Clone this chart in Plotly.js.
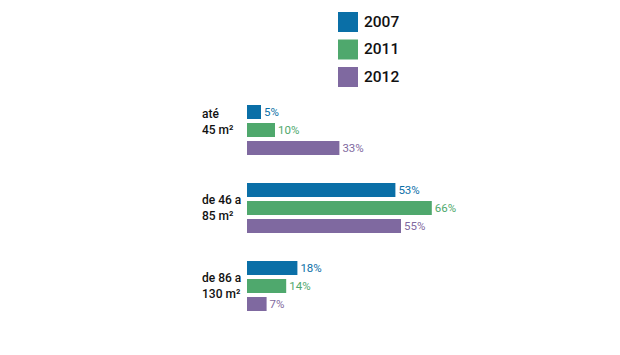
<!DOCTYPE html>
<html>
<head>
<meta charset="utf-8">
<script src="https://cdn.plot.ly/plotly-3.0.1.min.js"></script>
<style>html,body{margin:0;padding:0;background:#fff;}#chart{width:620px;height:355px;}</style>
</head>
<body>
<div id="chart"></div>
<script>
const categories = ["até<br>45 m²", "de 46 a<br>85 m²", "de 86 a<br>130 m²"];
const seriesNames = ["2007", "2011", "2012"];
const values2007 = [5, 53, 18];
const values2011 = [10, 66, 14];
const values2012 = [33, 55, 7];
const colors = ["#0a6fa7", "#4fa86d", "#7f69a0"];

const seriesValues = [values2007, values2011, values2012];
const catIdx = categories.map((c, i) => i);

const traces = seriesValues.map((vals, i) => ({
  type: "bar",
  orientation: "h",
  name: seriesNames[i],
  x: vals,
  y: catIdx,
  marker: {color: colors[i], line: {width: 0}},
  text: vals.map(v => v + "%"),
  textposition: "outside",
  textfont: {family: "Roboto, sans-serif", size: 11.5, color: colors[i]},
  cliponaxis: false,
  hoverinfo: "none"
}));

const W = 620, H = 355;
const m = {l: 247, r: 93, t: 91, b: 30};
const pw = W - m.l - m.r, ph = H - m.t - m.b;
const px2x = px => (px - m.l) / pw;
const py2y = py => (H - m.b - py) / ph;

const shapes = [];
const annotations = [];
seriesNames.forEach((n, i) => {
  const top = 12 + i * 27.5;
  shapes.push({type: "rect", xref: "paper", yref: "paper",
    x0: px2x(338), x1: px2x(358), y0: py2y(top + 20), y1: py2y(top),
    fillcolor: colors[i], line: {width: 0}});
  annotations.push({xref: "paper", yref: "paper", x: px2x(362), y: py2y(top + 10),
    xanchor: "left", yanchor: "middle", text: n, showarrow: false,
    font: {family: "Roboto, sans-serif", size: 15.5, color: "#111", weight: 500}});
});
categories.forEach((c, i) => {
  annotations.push({xref: "paper", yref: "y", x: 0, xshift: -47, y: i,
    yshift: i === 0 ? 8 : 0,
    xanchor: "left", yanchor: "middle", align: "left", text: c, showarrow: false,
    font: {family: "Roboto, sans-serif", size: 12, color: "#111", weight: 500}});
});

const layout = {
  width: W, height: H,
  margin: m,
  paper_bgcolor: "#fff", plot_bgcolor: "#fff",
  barmode: "group",
  bargap: 0.308,
  bargroupgap: 0.22,
  showlegend: false,
  xaxis: {range: [0, 100], visible: false, fixedrange: true},
  yaxis: {range: [2.5, -0.5], visible: false, fixedrange: true},
  shapes: shapes,
  annotations: annotations
};

Plotly.newPlot("chart", traces, layout, {displayModeBar: false, staticPlot: true});
</script>
</body>
</html>
